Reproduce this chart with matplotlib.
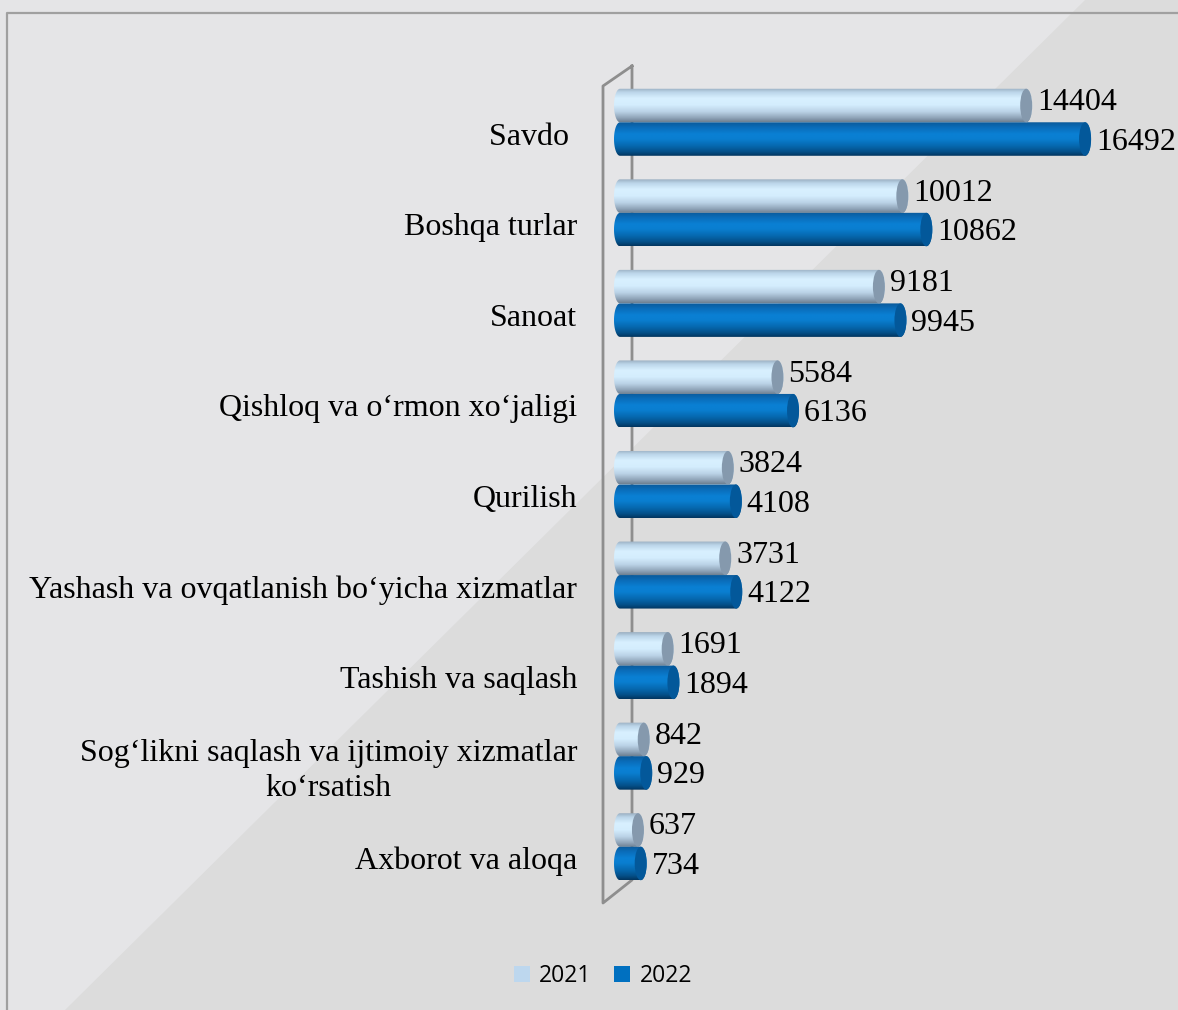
import numpy as np
import matplotlib
matplotlib.use("Agg")
from matplotlib import pyplot as plt
from matplotlib.colors import LinearSegmentedColormap
from matplotlib.patches import Ellipse, PathPatch, Patch, Polygon
from matplotlib.path import Path
from matplotlib.lines import Line2D

# data
categories = ["Savdo ", "Boshqa turlar", "Sanoat", "Qishloq va o‘rmon xo‘jaligi",
              "Qurilish", "Yashash va ovqatlanish bo‘yicha xizmatlar",
              "Tashish va saqlash", "Sog‘likni saqlash va ijtimoiy xizmatlar\nko‘rsatish",
              "Axborot va aloqa"]
values_2021 = [14404, 10012, 9181, 5584, 3824, 3731, 1691, 842, 637]
values_2022 = [16492, 10862, 9945, 6136, 4108, 4122, 1894, 929, 734]
series_names = ["2021", "2022"]

W, H = 1178, 1010
fig = plt.figure(figsize=(W / 100, H / 100), dpi=100)


def fpt(x, y):
    # pixel (top-left origin) -> figure fraction
    return (x / W, 1 - y / H)


# background: two grey halves split by a diagonal, plus thin frame
fig.add_artist(Polygon([fpt(0, 0), fpt(W, 0), fpt(W, H), fpt(0, H)], closed=True,
                       transform=fig.transFigure, facecolor="#dcdcdc", edgecolor="none", zorder=-10))
fig.add_artist(Polygon([fpt(0, 0), fpt(1085, 0), fpt(65, H), fpt(0, H)], closed=True,
                       transform=fig.transFigure, facecolor="#e5e5e7", edgecolor="none", zorder=-9))
fig.add_artist(Line2D([fpt(7, H)[0], fpt(7, 13)[0], fpt(W, 13)[0]],
                      [fpt(7, H)[1], fpt(7, 13)[1], fpt(W, 13)[1]],
                      transform=fig.transFigure, color="#a0a0a0", lw=1.6, zorder=-8))

# 3d wall of the category axis
wall = [(632, 66), (603, 86), (603, 903), (632, 880), (632, 66)]
fig.add_artist(Line2D([fpt(*p)[0] for p in wall], [fpt(*p)[1] for p in wall],
                      transform=fig.transFigure, color="#8e8e8e", lw=2, zorder=-5))

zero_px = 620
pad_px = 20
ax = fig.add_axes([(zero_px - pad_px) / W, 1 - 892 / H, (W - zero_px + pad_px) / W, 815 / H])
ax.patch.set_visible(False)
ax.axis("off")

px_per_unit = 0.0282
xmin = -pad_px / px_per_unit
xmax = (W - zero_px) / px_per_unit
cap_px = 12
cap_w = cap_px / px_per_unit
bar_h = 0.37

cmap_2021 = LinearSegmentedColormap.from_list("c21", [
    (0.0, "#9aaec0"), (0.12, "#bcd6ea"), (0.3, "#d8f0ff"), (0.5, "#d4edfd"),
    (0.7, "#bad2e6"), (0.88, "#8fa4b8"), (1.0, "#6e8092")])
cmap_2022 = LinearSegmentedColormap.from_list("c22", [
    (0.0, "#0a5a9a"), (0.15, "#0a6cb8"), (0.35, "#0a80d4"), (0.5, "#0a7ed0"),
    (0.7, "#0669b0"), (0.88, "#044f88"), (1.0, "#02355e")])
cap_colors = ["#8599ad", "#03589a"]


def cylinder(value, y_top, cmap, cap_color):
    a = cap_w / 2
    b = bar_h / 2
    yc = y_top + b
    t = np.linspace(np.pi / 2, 3 * np.pi / 2, 40)
    left = np.column_stack([a * np.cos(t), yc + b * np.sin(t)])
    t2 = np.linspace(-np.pi / 2, np.pi / 2, 40)
    right = np.column_stack([value + a * np.cos(t2), yc + b * np.sin(t2)])
    verts = np.vstack([left, right, left[:1]])
    clip = PathPatch(Path(verts), transform=ax.transData, facecolor="none", edgecolor="none")
    ax.add_patch(clip)
    grad = np.linspace(0, 1, 128).reshape(-1, 1)
    im = ax.imshow(grad, cmap=cmap, aspect="auto", origin="upper", interpolation="bilinear",
                   extent=(-a, value + a, y_top + bar_h, y_top), zorder=2)
    im.set_clip_path(clip)
    ax.add_patch(Ellipse((value, yc), cap_w, bar_h, facecolor=cap_color,
                         edgecolor="none", zorder=3))
    return yc


serif = "Liberation Serif"
for i, cat in enumerate(categories):
    y21 = cylinder(values_2021[i], i - bar_h, cmap_2021, cap_colors[0])
    y22 = cylinder(values_2022[i], i, cmap_2022, cap_colors[1])
    ax.annotate(f"{values_2021[i]}", xy=(values_2021[i], y21), xytext=(cap_px / 2 + 5, 3),
                textcoords="offset pixels", ha="left", va="center",
                fontsize=23, family=serif, color="black", zorder=5)
    ax.annotate(f"{values_2022[i]}", xy=(values_2022[i], y22), xytext=(cap_px / 2 + 5, -3),
                textcoords="offset pixels", ha="left", va="center",
                fontsize=23, family=serif, color="black", zorder=5)
    ax.annotate(cat, xy=(0, i), xytext=(-43, -15), textcoords="offset pixels",
                ha="right", va="center", multialignment="center",
                fontsize=23, family=serif, color="black", linespacing=1.3,
                annotation_clip=False)

ax.set_xlim(xmin, xmax)
ax.set_ylim(len(categories) - 0.5, -0.5)

handles = [Patch(facecolor="#bdd7ee", label=series_names[0]),
           Patch(facecolor="#0070c0", label=series_names[1])]
fig.legend(handles=handles, loc="center", bbox_to_anchor=fpt(603, 976), ncol=2,
           frameon=False, prop={"family": "Open Sans", "size": 16.5},
           handlelength=0.7, handleheight=0.7, handletextpad=0.4, columnspacing=1.0)

fig.savefig("out.png", dpi=100)
